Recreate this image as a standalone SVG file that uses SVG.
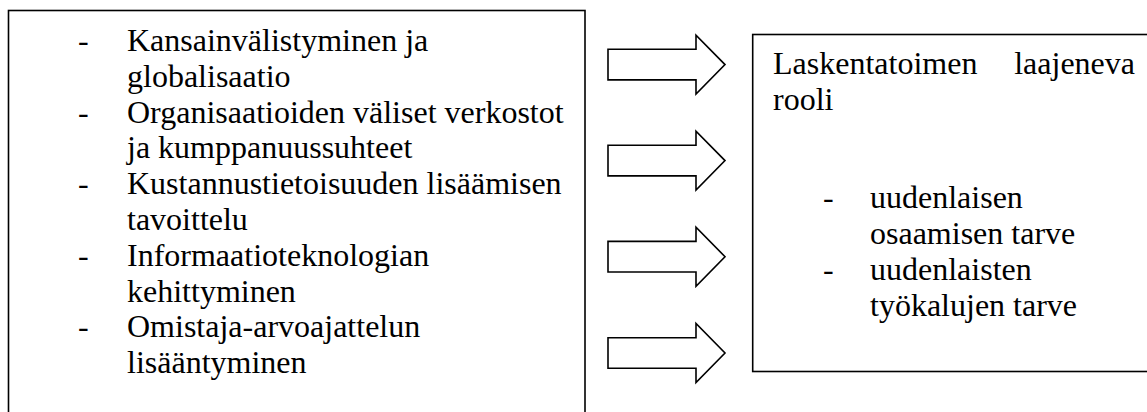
<svg xmlns="http://www.w3.org/2000/svg" width="1147" height="412" viewBox="0 0 1147 412">
  <style>
    .box { fill: #ffffff; stroke: #000000; stroke-width: 1.6; }
    .arrow { fill: #ffffff; stroke: #000000; stroke-width: 1.6; }
    .t { font-family: 'Liberation Serif', serif; font-size: 32px; fill: #000000; }
  </style>
  <defs>
    <!-- block arrow, centred vertically on y = 0 -->
    <polygon id="blockArrow" class="arrow" points="608,-15.3 696,-15.3 696,-29.5 725,0 696,29.5 696,15.3 608,15.3"/>
  </defs>

  <rect width="1147" height="412" fill="#ffffff"/>

  <!-- left node: driving factors -->
  <g id="drivers">
    <rect class="box" x="8.5" y="10.5" width="576.5" height="420"/>
    <text class="t" x="78" y="51">-</text>
    <text class="t" x="127" y="51">Kansainvälistyminen ja</text>
    <text class="t" x="127" y="87">globalisaatio</text>
    <text class="t" x="78" y="122.5">-</text>
    <text class="t" x="127" y="122.5">Organisaatioiden väliset verkostot</text>
    <text class="t" x="127" y="158">ja kumppanuussuhteet</text>
    <text class="t" x="78" y="194">-</text>
    <text class="t" x="127" y="194">Kustannustietoisuuden lisäämisen</text>
    <text class="t" x="127" y="230">tavoittelu</text>
    <text class="t" x="78" y="266">-</text>
    <text class="t" x="127" y="266">Informaatioteknologian</text>
    <text class="t" x="127" y="301.5">kehittyminen</text>
    <text class="t" x="78" y="337">-</text>
    <text class="t" x="127" y="337">Omistaja-arvoajattelun</text>
    <text class="t" x="127" y="373">lisääntyminen</text>
  </g>

  <!-- connectors: block arrows -->
  <g id="connectors">
    <use href="#blockArrow" transform="translate(0,64.6)"/>
    <use href="#blockArrow" transform="translate(0,160.6)"/>
    <use href="#blockArrow" transform="translate(0,256.7)"/>
    <use href="#blockArrow" transform="translate(0,353)"/>
  </g>

  <!-- right node: expanding role of accounting (first line justified) -->
  <g id="role">
    <rect class="box" x="752.7" y="34.5" width="420" height="337"/>
    <text class="t" x="773" y="73.5">Laskentatoimen</text>
    <text class="t" x="1135" y="73.5" text-anchor="end">laajeneva</text>
    <text class="t" x="773" y="110">rooli</text>
    <text class="t" x="823" y="208">-</text>
    <text class="t" x="870" y="208">uudenlaisen</text>
    <text class="t" x="870" y="244">osaamisen tarve</text>
    <text class="t" x="823" y="280">-</text>
    <text class="t" x="870" y="280">uudenlaisten</text>
    <text class="t" x="870" y="316">työkalujen tarve</text>
  </g>
</svg>
